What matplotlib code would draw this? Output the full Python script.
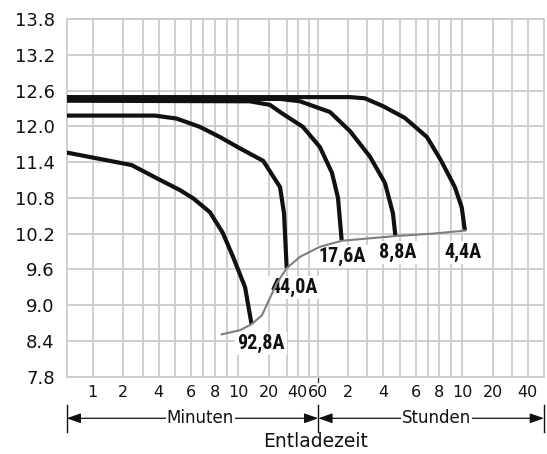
import numpy as np
import matplotlib.pyplot as plt
from matplotlib import font_manager

# printed time scale of the datasheet: minutes -> position (not a true log scale)
knot_t = [0.005, 0.5, 1, 2, 3, 4, 5, 6, 7, 8, 9, 10, 20, 30, 40, 50, 60,
          120, 180, 240, 300, 360, 420, 480, 540, 600, 1200, 1800, 2400, 3000, 300000]
knot_p = [-106, 66.7, 92.7, 123.3, 143.3, 158.7, 174.7, 191.3, 203.3, 215, 226.7, 238,
          269.3, 286.7, 297.7, 309, 318.3, 348.3, 367, 383.3, 400, 415.7, 427.7, 439.3,
          451, 462.3, 492.7, 511.7, 527.7, 544, 744]
lt = np.log10(knot_t)


def fwd(t):
    t = np.clip(np.asarray(t, dtype=float), 1e-9, None)
    return np.interp(np.log10(t), lt, knot_p)


def inv(p):
    return 10 ** np.interp(np.asarray(p, dtype=float), knot_p, lt)


# discharge curves (time in minutes, voltage in V)
c92_t = [0.5, 2.37, 3.85, 5.3, 6.16, 7.55, 8.66, 9.55, 11.7, 13.5]
c92_v = [11.56, 11.35, 11.13, 10.93, 10.79, 10.56, 10.21, 9.81, 9.30, 8.68]
c44_t = [0.5, 3.73, 5.11, 6.71, 8.41, 10.45, 17.5, 25.7, 28.2, 30]
c44_v = [12.18, 12.18, 12.13, 11.99, 11.82, 11.63, 11.42, 10.98, 10.54, 9.62]
c17_t = [0.5, 13.0, 20.3, 25.7, 44.4, 62.4, 82.3, 94.6, 103]
c17_v = [12.43, 12.42, 12.36, 12.24, 11.99, 11.65, 11.22, 10.80, 10.09]
c88_t = [0.5, 25.7, 41.8, 78.6, 124.4, 189.8, 245.4, 273, 282.5]
c88_v = [12.46, 12.46, 12.42, 12.24, 11.92, 11.49, 11.05, 10.54, 10.15]
c44h_t = [0.5, 124.4, 172, 238, 317.8, 416, 487.9, 560, 596.8, 637]
c44h_v = [12.49, 12.49, 12.47, 12.34, 12.14, 11.82, 11.43, 10.98, 10.64, 10.25]

# end-of-discharge voltage line
end_t = [8.56, 10.45, 13.5, 17.0, 20.3, 23.9, 30, 41.8, 62.4, 103, 284.5, 446, 637]
end_v = [8.51, 8.58, 8.68, 8.83, 9.12, 9.37, 9.62, 9.81, 9.98, 10.08, 10.16, 10.20, 10.25]

lab_text = ["92,8A", "44,0A", "17,6A", "8,8A", "4,4A"]
lab_t = [16.6, 36.2, 105, 292, 603]
lab_v = [8.36, 9.30, 9.81, 9.88, 9.88]

yticks = np.round(np.arange(7.8, 13.81, 0.6), 1)
xticks = [1, 2, 4, 6, 8, 10, 20, 40, 60, 120, 240, 360, 480, 600, 1200, 2400]
xlabels = ["1", "2", "4", "6", "8", "10", "20", "40", "60", "2", "4", "6", "8", "10", "20", "40"]
xgrid = [1, 2, 3, 4, 5, 6, 7, 8, 9, 10, 20, 30, 40, 50, 60, 120, 180, 240, 300, 360,
         420, 480, 540, 600, 1200, 1800, 2400]

# pick a narrow bold face if one is installed
names = set(f.name for f in font_manager.fontManager.ttflist)
lab_fam = 'Liberation Sans'
lab_size = 13
for cand in ['Liberation Sans Narrow', 'DejaVu Sans Condensed', 'Roboto Condensed',
             'Open Sans Condensed', 'Noto Sans Condensed']:
    if cand in names:
        lab_fam = cand
        lab_size = 14.5
        break

fig = plt.figure(figsize=(5.47, 4.54), dpi=100)
ax = fig.add_axes([0.1219, 0.1703, 0.8726, 0.7878])
ax.set_xscale('function', functions=(fwd, inv))
ax.set_xlim(0.5, 3000)
ax.set_ylim(7.8, 13.8)

gc = '#cbcbcf'
for s in ax.spines.values():
    s.set_color(gc)
    s.set_linewidth(1.3)
ax.set_yticks(yticks)
ax.set_yticklabels(["%.1f" % v for v in yticks])
ax.set_xticks(xticks)
ax.set_xticklabels(xlabels)
ax.set_xticks(xgrid, minor=True)
ax.tick_params(axis='both', which='both', length=0)
ax.tick_params(axis='y', labelsize=13, pad=8.5, colors='#111111')
ax.tick_params(axis='x', labelsize=11.5, pad=6, colors='#111111')
ax.grid(True, which='both', color=gc, lw=1.3)
ax.set_axisbelow(True)

ax.plot(end_t, end_v, color='#7f7f7f', lw=1.5, zorder=6)
for tt, vv in [(c92_t, c92_v), (c44_t, c44_v), (c17_t, c17_v), (c88_t, c88_v), (c44h_t, c44h_v)]:
    ax.plot(tt, vv, color='#111111', lw=3.0, solid_capstyle='butt', zorder=4)

for s, tx, vy in zip(lab_text, lab_t, lab_v):
    ax.text(tx, vy, s, ha='center', va='center', fontsize=lab_size, fontweight='bold',
            family=[lab_fam, 'DejaVu Sans'], color='#111111', zorder=5,
            bbox=dict(boxstyle='square,pad=0.1', fc='white', ec='none'))

# small tick at 60 min / 1 h
ax.plot([60, 60], [0, -0.014], transform=ax.get_xaxis_transform(), color='#333333',
        lw=1.0, clip_on=False)

# Minuten / Stunden arrows
ya = -0.1163
ap = dict(arrowstyle='<|-|>,head_length=0.85,head_width=0.3', color='#111111', lw=0.9,
          shrinkA=0, shrinkB=0, mutation_scale=10)
ax.annotate('', xy=(0.5, ya), xytext=(60, ya), xycoords=('data', 'axes fraction'),
            textcoords=('data', 'axes fraction'), arrowprops=ap)
ax.annotate('', xy=(60, ya), xytext=(3000, ya), xycoords=('data', 'axes fraction'),
            textcoords=('data', 'axes fraction'), arrowprops=ap)
for xb in [0.5, 60, 3000]:
    ax.plot([xb, xb], [-0.079, -0.154], transform=ax.get_xaxis_transform(),
            color='#111111', lw=1.0, clip_on=False)
ax.text(0.28, ya, "Minuten", transform=ax.transAxes, ha='center', va='center', fontsize=12,
        color='#111111', bbox=dict(boxstyle='square,pad=0.05', fc='white', ec='none'))
ax.text(0.774, ya, "Stunden", transform=ax.transAxes, ha='center', va='center', fontsize=12,
        color='#111111', bbox=dict(boxstyle='square,pad=0.05', fc='white', ec='none'))
ax.text(0.522, -0.181, "Entladezeit", transform=ax.transAxes, ha='center', va='center',
        fontsize=13.5, color='#111111')

fig.savefig('out.png', dpi=100)
